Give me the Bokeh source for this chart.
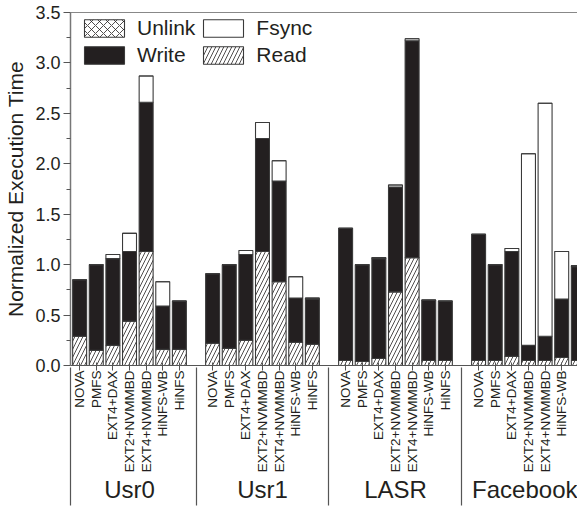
import math

from bokeh.embed import file_html
from bokeh.models import (ColumnDataSource, FixedTicker, Legend, LegendItem,
                          LinearAxis, PrintfTickFormatter, Range1d)
from bokeh.plotting import figure
from bokeh.resources import INLINE

# ---- data ---------------------------------------------------------------
workloads = ["Usr0", "Usr1", "LASR", "Facebook"]
systems = ["NOVA", "PMFS", "EXT4+DAX", "EXT2+NVMMBD", "EXT4+NVMMBD", "HiNFS-WB", "HiNFS"]

# normalized time spent in each operation (segment heights), 7 systems per workload
read_usr0 = [0.29, 0.15, 0.20, 0.44, 1.13, 0.16, 0.16]
write_usr0 = [0.56, 0.85, 0.86, 0.69, 1.48, 0.43, 0.48]
fsync_usr0 = [0.00, 0.00, 0.04, 0.18, 0.26, 0.24, 0.00]

read_usr1 = [0.22, 0.17, 0.25, 1.13, 0.83, 0.23, 0.21]
write_usr1 = [0.69, 0.83, 0.85, 1.12, 1.00, 0.44, 0.45]
fsync_usr1 = [0.00, 0.00, 0.04, 0.16, 0.20, 0.21, 0.01]

read_lasr = [0.05, 0.04, 0.07, 0.73, 1.07, 0.05, 0.05]
write_lasr = [1.31, 0.96, 0.99, 1.04, 2.15, 0.60, 0.59]
fsync_lasr = [0.00, 0.00, 0.01, 0.02, 0.02, 0.00, 0.00]

read_facebook = [0.05, 0.05, 0.09, 0.05, 0.05, 0.08, 0.05]
write_facebook = [1.25, 0.95, 1.04, 0.15, 0.24, 0.58, 0.93]
fsync_facebook = [0.00, 0.00, 0.03, 1.90, 2.31, 0.47, 0.01]

unlink_all = [0.0] * 28

y_ticks = [0.0, 0.5, 1.0, 1.5, 2.0, 2.5, 3.0, 3.5]

# ---- layout of categories on a numeric axis --------------------------------
SLOTS_PER_GROUP = len(systems) + 1
X_START, X_END = -0.55, 29.95
xs = [g * SLOTS_PER_GROUP + i for g in range(len(workloads)) for i in range(len(systems))]
group_centers = [g * SLOTS_PER_GROUP + (len(systems) - 1) / 2 for g in range(len(workloads))]
separators = [X_START] + [g * SLOTS_PER_GROUP + len(systems) for g in range(len(workloads) - 1)]

source = ColumnDataSource(dict(
    x=xs,
    Read=read_usr0 + read_usr1 + read_lasr + read_facebook,
    Write=write_usr0 + write_usr1 + write_lasr + write_facebook,
    Fsync=fsync_usr0 + fsync_usr1 + fsync_lasr + fsync_facebook,
    Unlink=unlink_all,
))

FONT = "Liberation Sans"
EDGE = "#3a3a3a"
INK = "#231f20"

p = figure(
    width=577, height=508,
    x_range=Range1d(X_START, X_END), y_range=Range1d(0, 3.5),
    output_backend="svg", toolbar_location=None,
    x_axis_location=None,
    min_border_left=70, min_border_right=0, min_border_top=12, min_border_bottom=143,
)
p.outline_line_color = None
p.xgrid.visible = False
p.ygrid.visible = False

renderers = p.vbar_stack(
    ["Read", "Write", "Fsync", "Unlink"], x="x", width=0.84, source=source,
    fill_color=["white", INK, "white", "white"],
    line_color=EDGE, line_width=1.1,
    hatch_pattern=["/", " ", " ", "x"],
    hatch_color=INK, hatch_scale=8, hatch_weight=0.8,
)
r_read, r_write, r_fsync, r_unlink = renderers

# ---- y axis -------------------------------------------------------------
ya = p.yaxis[0]
ya.ticker = FixedTicker(ticks=y_ticks,
                        minor_ticks=[0.25, 0.75, 1.25, 1.75, 2.25, 2.75, 3.25])
ya.formatter = PrintfTickFormatter(format="%.1f")
ya.axis_label = "Normalized Execution Time"
ya.axis_label_text_font = FONT
ya.axis_label_text_font_style = "normal"
ya.axis_label_text_font_size = "21px"
ya.axis_label_text_color = INK
ya.axis_label_standoff = 5
ya.major_label_text_font = FONT
ya.major_label_text_font_size = "18px"
ya.major_label_text_color = INK
ya.major_label_standoff = 3
ya.axis_line_color = "#777777"
ya.axis_line_width = 1.5
ya.major_tick_line_color = "#555555"
ya.minor_tick_line_color = "#555555"
ya.major_tick_in = 0
ya.major_tick_out = 7
ya.minor_tick_in = 0
ya.minor_tick_out = 4

# ---- x axis: system names --------------------------------------------------
xa = LinearAxis(
    ticker=FixedTicker(ticks=xs),
    major_label_overrides={x: systems[i % len(systems)] for i, x in enumerate(xs)},
    major_label_orientation=math.pi / 2,
    major_label_text_font=FONT,
    major_label_text_font_size="13.5px",
    major_label_text_color=INK,
    major_label_standoff=0,
    axis_line_color="#555555",
    axis_line_width=1.2,
    major_tick_line_color="#555555",
    major_tick_in=3, major_tick_out=5,
    minor_tick_line_color=None,
)
p.add_layout(xa, "below")

# ---- x axis: workload names ----------------------------------------------
ga = LinearAxis(
    ticker=FixedTicker(ticks=group_centers),
    major_label_overrides={c: workloads[i] for i, c in enumerate(group_centers)},
    major_label_text_font=FONT,
    major_label_text_font_size="24px",
    major_label_text_color=INK,
    major_label_standoff=-6,
    axis_line_color=None,
    major_tick_line_color=None,
    minor_tick_line_color=None,
)
p.add_layout(ga, "below")

# ---- separators between workloads: long inward ticks reaching the frame ---
sa = LinearAxis(
    ticker=FixedTicker(ticks=[], minor_ticks=separators),
    axis_line_color=None,
    major_tick_line_color=None,
    minor_tick_line_color="#555555",
    minor_tick_line_width=1.2,
    minor_tick_in=138, minor_tick_out=0,
)
p.add_layout(sa, "below")

# ---- top frame line ------------------------------------------------------
ta = LinearAxis(ticker=FixedTicker(ticks=[]), axis_line_color="#888888",
                axis_line_width=1.2, major_tick_line_color=None,
                minor_tick_line_color=None)
p.add_layout(ta, "above")

# ---- legend ---------------------------------------------------------------
legend = Legend(
    items=[
        LegendItem(label="Unlink", renderers=[r_unlink]),
        LegendItem(label="Write", renderers=[r_write]),
        LegendItem(label="Fsync", renderers=[r_fsync]),
        LegendItem(label="Read", renderers=[r_read]),
    ],
    ncols=2,
    location=(9, 298),
    padding=0, margin=0, spacing=3,
    glyph_width=50, glyph_height=22,
    label_standoff=8,
    label_text_font=FONT, label_text_font_size="21px", label_text_color=INK,
    background_fill_alpha=0, border_line_color=None,
)
p.add_layout(legend, "center")

open("out.html", "w").write(file_html(p, INLINE))
